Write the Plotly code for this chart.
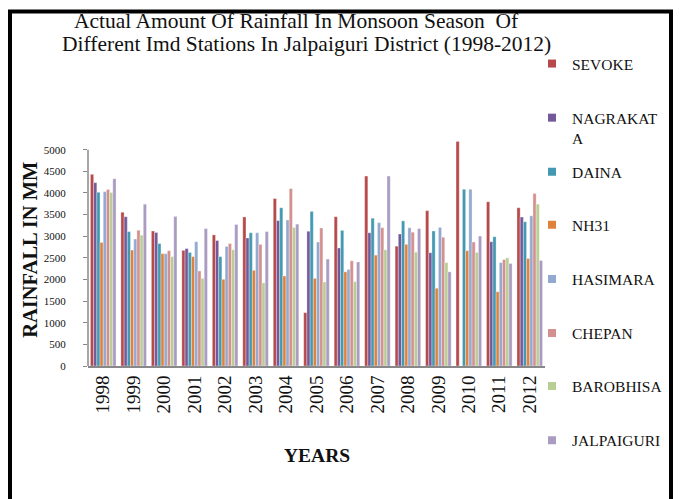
import plotly.graph_objects as go

years = ["1998", "1999", "2000", "2001", "2002", "2003", "2004", "2005",
         "2006", "2007", "2008", "2009", "2010", "2011", "2012"]

SEVOKE = [4430, 3554, 3120, 2672, 3030, 3445, 3870, 1233, 3450, 4390, 2769, 3590, 5190, 3795, 3657]
NAGRAKATA = [4237, 3450, 3085, 2713, 2899, 2961, 3361, 3113, 2727, 3080, 3051, 2617, None, 2872, 3443]
DAINA = [4015, 3106, 2830, 2624, 2527, 3080, 3657, 3574, 3134, 3416, 3354, 3120, 4084, 2989, 3333]
NH31 = [2855, 2679, 2596, 2527, 2004, 2211, 2080, 2025, 2176, 2562, 2810, 1797, 2665, 1715, 2486]
HASIMARA = [4030, 2934, 2596, 2872, 2762, 3080, 3375, 2865, 2231, 3313, 3196, 3202, 4084, 2390, 3471]
CHEPAN = [4080, 3140, 2665, 2197, 2830, 2810, 4100, 3189, 2431, 3196, 3092, 2975, 2865, 2459, 3988]
BAROBHISA = [4010, 3023, 2527, 2025, 2686, 1921, 3202, 1942, 1949, 2686, 2631, 2390, 2624, 2500, 3740]
JALPAIGURI = [4330, 3740, 3457, 3175, 3271, 3106, 3278, 2472, 2404, 4390, 3175, 2176, 3003, 2369, 2438]

y_ticks = [0, 500, 1000, 1500, 2000, 2500, 3000, 3500, 4000, 4500, 5000]

series_names = ["SEVOKE", "NAGRAKAT<br>A", "DAINA", "NH31", "HASIMARA", "CHEPAN", "BAROBHISA", "JALPAIGURI"]
series_values = [SEVOKE, NAGRAKATA, DAINA, NH31, HASIMARA, CHEPAN, BAROBHISA, JALPAIGURI]
colors = ["#B7494A", "#74599A", "#4299B1", "#E0823C", "#93A9D0", "#D4908E", "#B9CD95", "#A99BC1"]

# pixel geometry (page has an 8px body margin)
W, H = 681, 499
Y_TOP = 5200
L, R, B = 80, 537, 358
Y5000 = 142
T = Y5000 - (Y_TOP - 5000) * (B - Y5000) / 5000


def px(x):
    return (x - L) / (R - L)


def py(y):
    return (B - y) / (B - T)


SERIF = "Liberation Serif, Times New Roman, serif"

fig = go.Figure()
legend_y_px = [56, 110, 164, 217, 271, 325, 378, 432]
for i, (name, vals, col) in enumerate(zip(series_names, series_values, colors)):
    fig.add_trace(go.Bar(
        x=years, y=vals, name=name.replace("<br>", ""), showlegend=False,
        marker=dict(color=col, line=dict(color="rgba(255,255,255,0.55)", width=0.6)),
    ))
    lg = "legend" if i == 0 else f"legend{i+1}"
    fig.add_trace(go.Scatter(
        x=[None], y=[None], mode="markers", name=name, legend=lg,
        marker=dict(symbol="square", size=8, color=col),
    ))

layout_legends = {}
for i, ypx in enumerate(legend_y_px):
    lg = "legend" if i == 0 else f"legend{i+1}"
    layout_legends[lg] = dict(
        x=px(524), y=py(ypx - 16.5), xanchor="left", yanchor="top",
        bgcolor="rgba(0,0,0,0)", borderwidth=0,
        font=dict(family=SERIF, size=15.5, color="#111"),
        valign="top",
    )

fig.update_layout(
    width=W, height=H,
    margin=dict(l=L, r=W - R, t=T, b=H - B, pad=0),
    paper_bgcolor="white", plot_bgcolor="white",
    barmode="group", bargap=0.16, bargroupgap=0,
    font=dict(family=SERIF, color="#111"),
    xaxis=dict(
        type="category", tickangle=-90, showgrid=False, ticks="",
        showline=True, linecolor="#888888", linewidth=2,
        tickfont=dict(family=SERIF, size=19, color="#111"),
    ),
    yaxis=dict(
        range=[0, Y_TOP], tickvals=y_ticks, showgrid=False, zeroline=False,
        showline=False,
        ticks="outside", ticklen=4, tickcolor="#888888",
        ticklabelstandoff=15,
        tickfont=dict(family=SERIF, size=11, color="#111"),
    ),
    **layout_legends,
)

annotations = [
    dict(text="Actual Amount Of Rainfall In Monsoon Season  Of", x=px(64), y=py(14),
         xanchor="left", yanchor="middle", font=dict(family=SERIF, size=21.5, color="#111")),
    dict(text="Different Imd Stations In Jalpaiguri District (1998-2012)", x=px(52), y=py(37),
         xanchor="left", yanchor="middle", font=dict(family=SERIF, size=21.5, color="#111")),
    dict(text="<b>RAINFALL IN MM</b>", x=px(22), y=py(242), textangle=-90,
         xanchor="center", yanchor="middle", font=dict(family=SERIF, size=20.5, color="#111")),
    dict(text="<b>YEARS</b>", x=px(309), y=py(447),
         xanchor="center", yanchor="middle", font=dict(family=SERIF, size=19.5, color="#111")),
]
for a in annotations:
    a.update(xref="paper", yref="paper", showarrow=False)
fig.update_layout(annotations=annotations)

# value axis line, running from 0 up to the last tick
fig.add_shape(type="line", xref="paper", yref="y", x0=0, x1=0, y0=0, y1=y_ticks[-1],
              line=dict(color="#888888", width=1.5), layer="above")

# outer frame
fig.add_shape(type="rect", xref="paper", yref="paper",
              x0=px(2), x1=px(663), y0=py(540), y1=py(4),
              line=dict(color="black", width=4), fillcolor="rgba(0,0,0,0)", layer="above")

fig.write_html("out.html")
